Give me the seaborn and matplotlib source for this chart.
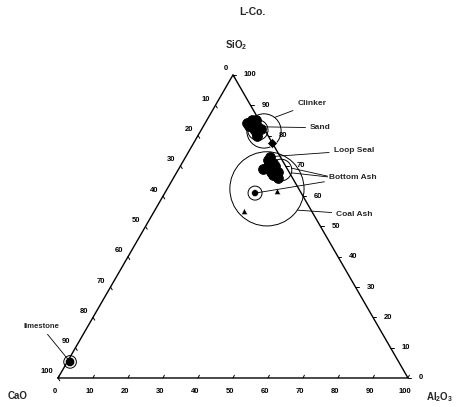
import numpy as np
import pandas as pd
import matplotlib.pyplot as plt
import seaborn as sns
from matplotlib.patches import Circle

sns.set_theme(style="white")
plt.rcParams['font.family'] = ['Liberation Sans', 'DejaVu Sans']
plt.rcParams['mathtext.default'] = 'regular'

# -----------------------------
# Data (wt %), SiO2 / Al2O3, CaO = rest
# -----------------------------
sand_sio2 = [84, 85, 83, 82, 81, 83, 84, 82, 80, 85]
sand_al2o3 = [14, 13, 15, 15, 16, 13, 12, 17, 17, 14]

loop_sio2 = [72, 71, 70, 68, 67, 69, 70, 66, 73, 68]
loop_al2o3 = [24, 26, 27, 27, 28, 24, 25, 30, 24, 29]

# fields drawn as circles: centre SiO2, centre Al2O3, radius
field_names = ["Clinker", "Sand", "Bottom Ash", "Coal Ash", "Bottom Ash 2", "limestone"]
field_sio2 = [81.5, 81.8, 68.6, 62.4, 61.0, 5.3]
field_al2o3 = [18.1, 16.2, 29.4, 28.5, 25.8, 0.8]
field_radius = [4.9, 2.9, 3.1, 10.6, 2.0, 1.8]

# single points
dot_sio2 = [61.0, 5.3]
dot_al2o3 = [25.8, 0.8]
dot_size = [25, 45]
tri_sio2 = [61.7, 55.1]
tri_al2o3 = [31.7, 25.6]
diamond_sio2 = [77.5]
diamond_al2o3 = [22.4]

ticks = [0, 10, 20, 30, 40, 50, 60, 70, 80, 90, 100]

H = np.sqrt(3) / 2


def tern(s, a):
    s = np.asarray(s, dtype=float)
    a = np.asarray(a, dtype=float)
    return a + s / 2, s * H


# -----------------------------
# Figure
# -----------------------------
fig = plt.figure(figsize=(4.66, 4.07), dpi=100)
ax = fig.add_axes([0, 0, 1, 1])
ax.set_xlim(-16.57, 116.57)
ax.set_ylim(-8.29, 108.0)
ax.set_aspect('equal')
ax.axis('off')

# triangle frame
tx, ty = tern([0, 0, 100, 0], [0, 100, 0, 0])
ax.plot(tx, ty, color='black', lw=1.0)

lab = dict(fontsize=5.5, fontweight='bold', color='black', textcoords='offset pixels', va='center')
for t in ticks:
    # bottom edge: Al2O3
    x, y = tern(0, t)
    ax.plot([x, x + 0.4], [y, y + 0.8], color='black', lw=0.7)
    ax.annotate(str(t), (x, y), xytext=(-3, -14), ha='center', **lab)
    # right edge: SiO2
    x, y = tern(t, 100 - t)
    ax.plot([x, x + 0.9], [y, y], color='black', lw=0.7)
    ax.annotate(str(t), (x, y), xytext=(11, 0), ha='left', **lab)
    # left edge: CaO
    x, y = tern(100 - t, 0)
    ax.plot([x, x + 0.5], [y, y - 0.8], color='black', lw=0.7)
    ax.annotate(str(t), (x, y), xytext=(-5, 6), ha='right', **lab)

# circles around fields
for s, a, r in zip(field_sio2, field_al2o3, field_radius):
    cx, cy = tern(s, a)
    ax.add_patch(Circle((cx, cy), r, fill=False, color='black', lw=0.7))

# data clusters
pts = pd.DataFrame({
    "SiO2": sand_sio2 + loop_sio2,
    "Al2O3": sand_al2o3 + loop_al2o3,
})
pts["x"], pts["y"] = tern(pts["SiO2"], pts["Al2O3"])
sns.scatterplot(data=pts, x="x", y="y", color='black', s=50, edgecolor='black', ax=ax, legend=False)

dx, dy = tern(dot_sio2, dot_al2o3)
sns.scatterplot(x=dx, y=dy, color='black', size=dot_size, sizes=(25, 45), marker='o', ax=ax, legend=False)
trx, try_ = tern(tri_sio2, tri_al2o3)
sns.scatterplot(x=trx, y=try_, color='black', s=20, marker='^', ax=ax, legend=False)
dmx, dmy = tern(diamond_sio2, diamond_al2o3)
sns.scatterplot(x=dmx, y=dmy, color='black', s=26, marker='D', ax=ax, legend=False)
ax.set_xlabel('')
ax.set_ylabel('')


def edge(i, ang):
    cx, cy = tern(field_sio2[i], field_al2o3[i])
    r = field_radius[i]
    return cx + r * np.cos(np.radians(ang)), cy + r * np.sin(np.radians(ang))


ann = dict(fontsize=6, fontweight='bold', textcoords='offset pixels', ha='left', va='center',
           arrowprops=dict(arrowstyle='-', color='black', lw=0.6, shrinkA=1, shrinkB=0))

ax.annotate("Clinker", edge(0, 52), xytext=(23, 14), **ann)
sx, sy = tern(np.mean(sand_sio2), np.mean(sand_al2o3))
ax.annotate("Sand", (sx, sy), xytext=(56, -1), **ann)
lx, ly = tern(loop_sio2[8], loop_al2o3[8])
ax.annotate("Loop Seal", (lx, ly), xytext=(64, 6), **ann)
bx, by = tern(dot_sio2[0], dot_al2o3[0])
ax.annotate("Bottom Ash", (bx, by), xytext=(74, 16), **ann)
for ang, off in [(10, (36, -8)), (-15, (36, -4))]:
    ex, ey = edge(2, ang)
    ax.annotate("", (ex, ey), xytext=off,
                textcoords='offset pixels',
                arrowprops=dict(arrowstyle='-', color='black', lw=0.6, shrinkA=0, shrinkB=0))
ax.annotate("Coal Ash", edge(3, -35), xytext=(39, -4), **ann)
mx, my = tern(dot_sio2[1], dot_al2o3[1])
ax.annotate("limestone", (mx, my), xytext=(-29, 32), fontsize=5.5, fontweight='bold',
            textcoords='offset pixels', ha='center', va='bottom',
            arrowprops=dict(arrowstyle='-', color='black', lw=0.6, shrinkA=1, shrinkB=1))

# titles and corner labels
fig.text(252 / 466, 1 - 12 / 407, "L-Co.", fontsize=7.5, fontweight='bold', ha='center', va='center')
fig.text(236 / 466, 1 - 45 / 407, r"SiO$_2$", fontsize=7, fontweight='bold', ha='center', va='center')
fig.text(18 / 466, 1 - 396 / 407, "CaO", fontsize=7, fontweight='bold', ha='center', va='center')
fig.text(440 / 466, 1 - 397 / 407, r"Al$_2$O$_3$", fontsize=7, fontweight='bold', ha='center', va='center')

plt.savefig("out.png", dpi=100)
plt.close()
